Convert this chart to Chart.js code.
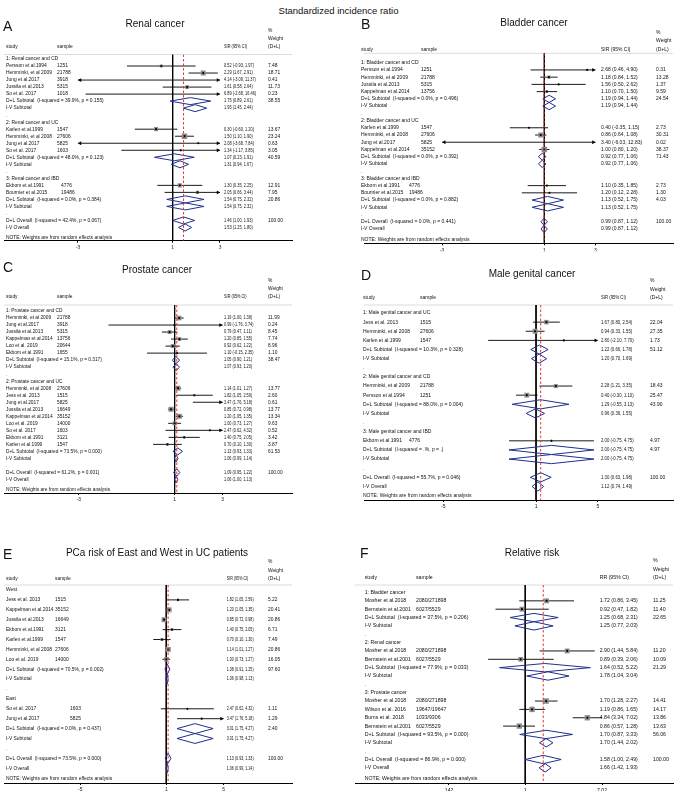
<!DOCTYPE html>
<html>
<head>
<meta charset="utf-8">
<script src="https://cdn.jsdelivr.net/npm/chart.js@4.4.1/dist/chart.umd.min.js"></script>
<style>
  body { margin: 0; background: #fff; }
  #page { position: relative; width: 677px; height: 805px; overflow: hidden; font-family: "Liberation Sans", Arial, sans-serif; }
  #mainTitle { position: absolute; left: 0; width: 677px; top: 5px; text-align: center; font-size: 9.5px; line-height: 12px; color: #111; }
  canvas { position: absolute; }
</style>
</head>
<body>
<div id="page">
  <div id="mainTitle">Standardized incidence ratio</div>
</div>
<script>
// row = [type, label, sample, estimate, lower, upper, weight]
// g = group heading, s = study, d = pooled estimate (diamond), b = spacer "."
const renalRows = [
  ['g', '1: Renal cancer and CD'],
  ['s', 'Persson et al.1994', '1251', 0.52, -0.93, 1.97, 7.48],
  ['s', 'Hemminki, et al 2009', '21788', 2.29, 1.67, 2.91, 18.71],
  ['s', 'Jung et al.2017', '3918', 4.14, -3.09, 11.37, 0.41],
  ['s', 'Jussila et al.2013', '5315', 1.61, 0.58, 2.64, 11.73],
  ['s', 'So et al. 2017', '1018', 6.89, -2.68, 16.46, 0.23],
  ['d', 'D+L Subtotal  (I-squared = 39.9%, p = 0.155)', '', 1.75, 0.89, 2.61, 38.55],
  ['d', 'I-V Subtotal', '', 1.95, 1.45, 2.44, null],
  ['b', '.'],
  ['g', '2: Renal cancer and UC'],
  ['s', 'Karlen et al.1999', '1547', 0.30, -0.60, 1.20, 13.67],
  ['s', 'Hemminki, et al 2008', '27606', 1.50, 1.10, 1.90, 23.24],
  ['s', 'Jung et al.2017', '5825', 2.08, -3.68, 7.84, 0.63],
  ['s', 'So et al. 2017', '1603', 1.34, -1.17, 3.85, 3.05],
  ['d', 'D+L Subtotal  (I-squared = 48.0%, p = 0.123)', '', 1.07, 0.23, 1.91, 40.59],
  ['d', 'I-V Subtotal', '', 1.31, 0.94, 1.67, null],
  ['b', '.'],
  ['g', '3: Renal cancer and IBD'],
  ['s', 'Ekbom et al.1991', '4776', 1.30, 0.35, 2.25, 12.91],
  ['s', 'Bournier et al.2015', '19486', 2.05, 0.66, 3.44, 7.95],
  ['d', 'D+L Subtotal  (I-squared = 0.0%, p = 0.384)', '', 1.54, 0.75, 2.32, 20.86],
  ['d', 'I-V Subtotal', '', 1.54, 0.75, 2.32, null],
  ['b', '.'],
  ['d', 'D+L Overall  (I-squared = 42.4%, p = 0.067)', '', 1.46, 1.00, 1.93, 100.00],
  ['d', 'I-V Overall', '', 1.53, 1.25, 1.80, null]
];
const renalTicks = [-3, 1, 3];

const bladderRows = [
  ['g', '1: Bladder cancer and CD'],
  ['s', 'Persson et al.1994', '1251', 2.68, 0.46, 4.90, 0.31],
  ['s', 'Hemminki, et al 2009', '21788', 1.18, 0.84, 1.52, 13.28],
  ['s', 'Jussila et al.2013', '5315', 1.56, 0.50, 2.62, 1.37],
  ['s', 'Kappelman et al.2014', '13756', 1.10, 0.70, 1.50, 9.59],
  ['d', 'D+L Subtotal  (I-squared = 0.0%, p = 0.496)', '', 1.19, 0.94, 1.44, 24.54],
  ['d', 'I-V Subtotal', '', 1.19, 0.94, 1.44, null],
  ['b', '.'],
  ['g', '2: Bladder cancer and UC'],
  ['s', 'Karlen et al.1999', '1547', 0.40, -0.35, 1.15, 2.73],
  ['s', 'Hemminki, et al 2008', '27606', 0.86, 0.64, 1.08, 30.31],
  ['s', 'Jung et al.2017', '5825', 3.40, -6.03, 12.83, 0.02],
  ['s', 'Kappelman et al.2014', '35152', 1.00, 0.80, 1.20, 38.37],
  ['d', 'D+L Subtotal  (I-squared = 0.0%, p = 0.392)', '', 0.92, 0.77, 1.06, 71.43],
  ['d', 'I-V Subtotal', '', 0.92, 0.77, 1.06, null],
  ['b', '.'],
  ['g', '3: Bladder cancer and IBD'],
  ['s', 'Ekbom et al.1991', '4776', 1.10, 0.35, 1.85, 2.73],
  ['s', 'Bournier et al.2015', '19486', 1.20, 0.12, 2.28, 1.30],
  ['d', 'D+L Subtotal  (I-squared = 0.0%, p = 0.882)', '', 1.13, 0.52, 1.75, 4.03],
  ['d', 'I-V Subtotal', '', 1.13, 0.52, 1.75, null],
  ['b', '.'],
  ['d', 'D+L Overall  (I-squared = 0.0%, p = 0.441)', '', 0.99, 0.87, 1.12, 100.00],
  ['d', 'I-V Overall', '', 0.99, 0.87, 1.12, null]
];
const bladderTicks = [-3, 1, 3];

const prostateRows = [
  ['g', '1: Prostate cancer and CD'],
  ['s', 'Hemminki, et al 2009', '21788', 1.19, 1.00, 1.38, 11.99],
  ['s', 'Jung et al.2017', '3918', 0.99, -1.76, 3.74, 0.24],
  ['s', 'Jussila et al.2013', '5315', 0.79, 0.47, 1.11, 8.45],
  ['s', 'Kappelman et al.2014', '13756', 1.20, 0.85, 1.55, 7.74],
  ['s', 'Loo et al. 2019', '20644', 0.92, 0.62, 1.22, 8.96],
  ['s', 'Ekbom et al.1991', '1655', 1.10, -0.15, 2.35, 1.10],
  ['d', 'D+L Subtotal  (I-squared = 15.1%, p = 0.317)', '', 1.05, 0.90, 1.21, 38.47],
  ['d', 'I-V Subtotal', '', 1.07, 0.93, 1.20, null],
  ['b', '.'],
  ['g', '2: Prostate cancer and UC'],
  ['s', 'Hemminki, et al 2008', '27606', 1.14, 1.01, 1.27, 13.77],
  ['s', 'Jess et al. 2013', '1515', 1.82, 1.05, 2.59, 2.60],
  ['s', 'Jung et al.2017', '5825', 3.47, 1.76, 5.18, 0.61],
  ['s', 'Jussila et al.2013', '16649', 0.85, 0.72, 0.98, 13.77],
  ['s', 'Kappelman et al.2014', '35152', 1.20, 1.05, 1.35, 13.34],
  ['s', 'Loo et al. 2019', '14000', 1.00, 0.73, 1.27, 9.63],
  ['s', 'So et al. 2017', '1603', 2.47, 0.62, 4.32, 0.52],
  ['s', 'Ekbom et al.1991', '3121', 1.40, 0.75, 2.05, 3.42],
  ['s', 'Karlen et al.1999', '1547', 0.70, 0.10, 1.30, 3.87],
  ['d', 'D+L Subtotal  (I-squared = 73.5%, p = 0.000)', '', 1.13, 0.93, 1.33, 61.53],
  ['d', 'I-V Subtotal', '', 1.06, 0.99, 1.14, null],
  ['b', '.'],
  ['d', 'D+L Overall  (I-squared = 61.2%, p = 0.001)', '', 1.09, 0.95, 1.22, 100.00],
  ['d', 'I-V Overall', '', 1.06, 1.00, 1.13, null]
];
const prostateTicks = [-3, 1, 3];

const genitalRows = [
  ['g', '1: Male genital cancer and UC'],
  ['s', 'Jess et al. 2013', '1515', 1.67, 0.80, 2.54, 22.04],
  ['s', 'Hemminki, et al 2008', '27606', 0.94, 0.33, 1.55, 27.35],
  ['s', 'Karlen et al.1999', '1547', 2.80, -2.10, 7.70, 1.73],
  ['d', 'D+L Subtotal  (I-squared = 10.3%, p = 0.328)', '', 1.22, 0.66, 1.78, 51.12],
  ['d', 'I-V Subtotal', '', 1.20, 0.70, 1.69, null],
  ['b', '.'],
  ['g', '2: Male genital cancer and CD'],
  ['s', 'Hemminki, et al 2009', '21788', 2.28, 1.21, 3.35, 18.43],
  ['s', 'Persson et al.1994', '1251', 0.40, -0.30, 1.10, 25.47],
  ['d', 'D+L Subtotal  (I-squared = 88.0%, p = 0.004)', '', 1.29, -0.55, 3.13, 43.90],
  ['d', 'I-V Subtotal', '', 0.96, 0.36, 1.55, null],
  ['b', '.'],
  ['g', '3: Male genital cancer and IBD'],
  ['s', 'Ekbom et al.1991', '4776', 2.00, -0.75, 4.75, 4.97],
  ['d', 'D+L Subtotal  (I-squared = .%, p = .)', '', 2.00, -0.75, 4.75, 4.97],
  ['d', 'I-V Subtotal', '', 2.00, -0.75, 4.75, null],
  ['b', '.'],
  ['d', 'D+L Overall  (I-squared = 55.7%, p = 0.046)', '', 1.30, 0.63, 1.98, 100.00],
  ['d', 'I-V Overall', '', 1.12, 0.74, 1.49, null]
];
const genitalTicks = [-5, 1, 5];

const eastWestRows = [
  ['g', 'West'],
  ['s', 'Jess et al. 2013', '1515', 1.82, 1.05, 2.59, 5.22],
  ['s', 'Kappelman et al.2014', '35152', 1.20, 1.05, 1.35, 20.41],
  ['s', 'Jussila et al.2013', '16649', 0.85, 0.72, 0.98, 20.86],
  ['s', 'Ekbom et al.1991', '3121', 1.40, 0.75, 2.05, 6.71],
  ['s', 'Karlen et al.1999', '1547', 0.70, 0.10, 1.30, 7.49],
  ['s', 'Hemminki, et al 2008', '27606', 1.14, 1.01, 1.27, 20.86],
  ['s', 'Loo et al. 2019', '14000', 1.00, 0.73, 1.27, 16.05],
  ['d', 'D+L Subtotal  (I-squared = 70.5%, p = 0.002)', '', 1.08, 0.91, 1.25, 97.60],
  ['d', 'I-V Subtotal', '', 1.06, 0.98, 1.13, null],
  ['b', '.'],
  ['g', 'East'],
  ['s', 'So et al. 2017', '1603', 2.47, 0.62, 4.32, 1.11],
  ['s', 'Jung et al.2017', '5825', 3.47, 1.76, 5.18, 1.29],
  ['d', 'D+L Subtotal  (I-squared = 0.0%, p = 0.437)', '', 3.01, 1.75, 4.27, 2.40],
  ['d', 'I-V Subtotal', '', 3.01, 1.75, 4.27, null],
  ['b', '.'],
  ['d', 'D+L Overall  (I-squared = 73.5%, p = 0.000)', '', 1.13, 0.93, 1.33, 100.00],
  ['d', 'I-V Overall', '', 1.06, 0.99, 1.14, null]
];
const eastWestTicks = [-5, 1, 5];

const rrRows = [
  ['g', '1: Bladder cancer'],
  ['s', 'Mosher et al.2018', '2080/271898', 1.72, 0.86, 3.45, 11.25],
  ['s', 'Bernstein et al.2001', '6027/5529', 0.92, 0.47, 1.82, 11.40],
  ['d', 'D+L Subtotal  (I-squared = 37.5%, p = 0.206)', '', 1.25, 0.68, 2.31, 22.65],
  ['d', 'I-V Subtotal', '', 1.25, 0.77, 2.03, null],
  ['b', '.'],
  ['g', '2: Renal cancer'],
  ['s', 'Mosher et al.2018', '2080/271898', 2.90, 1.44, 5.84, 11.20],
  ['s', 'Bernstein et al.2001', '6027/5529', 0.89, 0.39, 2.06, 10.09],
  ['d', 'D+L Subtotal  (I-squared = 77.9%, p = 0.033)', '', 1.64, 0.52, 5.22, 21.29],
  ['d', 'I-V Subtotal', '', 1.78, 1.04, 3.04, null],
  ['b', '.'],
  ['g', '3: Prostate cancer'],
  ['s', 'Mosher et al.2018', '2080/271898', 1.70, 1.28, 2.27, 14.41],
  ['s', 'Wilson et al. 2016', '19647/19647', 1.19, 0.86, 1.65, 14.17],
  ['s', 'Burns et al. 2018', '1033/9306', 4.84, 3.34, 7.02, 13.86],
  ['s', 'Bernstein et al.2001', '6027/5529', 0.86, 0.57, 1.28, 13.63],
  ['d', 'D+L Subtotal  (I-squared = 93.5%, p = 0.000)', '', 1.70, 0.87, 3.33, 56.06],
  ['d', 'I-V Subtotal', '', 1.70, 1.44, 2.02, null],
  ['b', '.'],
  ['d', 'D+L Overall  (I-squared = 86.9%, p = 0.000)', '', 1.58, 1.00, 2.49, 100.00],
  ['d', 'I-V Overall', '', 1.66, 1.42, 1.93, null]
];
const rrTicks = [1 / 7.02, 1, 7.02];
const rrTickText = ['.142', '1', '7.02'];

// page geometry of each panel (pixels), kept apart from the values above
const layoutA = { left: 0, right: 292, width: 300, top: 12, one: 171, ppu: 24, letter: [3, 27], title: [155, 24],
  hdrY: [31, 39, 47], hdrLine: 54.5, row0: 59, step: 7.02, noteY: 237.7, axisY: 240.7, font: 4.9, ciScale: 0.8,
  study: 6, sample: [57, 57, 61], ci: 224, wt: 268, clip: [-3, 3], box: 5.5 };
const layoutB = { left: 360, right: 677, width: 317, top: 12, one: 545, ppu: 26.2, letter: [361, 25], title: [534, 23.5],
  hdrY: [32.7, 40.7, 49.3], hdrLine: 53.3, row0: 62.7, step: 7.23, noteY: 239.3, axisY: 243.3, font: 5, ciScale: 1,
  study: 361, sample: [421, 421, 409], ci: 601, wt: 656, clip: [-3, 3], box: 5.5 };
const layoutC = { left: 0, right: 292, width: 300, top: 256, one: 173, ppu: 24.3, letter: [3, 268], title: [157, 270],
  hdrY: [281, 289, 297], hdrLine: 305, row0: 311, step: 7.02, noteY: 490, axisY: 493, font: 4.8, ciScale: 0.8,
  study: 6, sample: [57, 57], ci: 224, wt: 268, clip: [-3, 3], box: 5 };
const layoutD = { left: 360, right: 677, width: 317, top: 262, one: 536.5, ppu: 15.84, letter: [361, 276], title: [532, 274],
  hdrY: [281, 289.5, 298], hdrLine: 305, row0: 313, step: 9.13, noteY: 496, axisY: 500, font: 5, ciScale: 0.85,
  study: 363, sample: [420, 420, 409], ci: 601, wt: 650, clip: [-5, 5], box: 5 };
const layoutE = { left: 0, right: 292, width: 300, top: 541, one: 164.5, ppu: 14.54, letter: [3, 555], title: [157, 553],
  hdrY: [562, 570.5, 579], hdrLine: 585, row0: 590, step: 9.9, noteY: 779, axisY: 783, font: 4.9, ciScale: 0.75,
  study: 6, sample: [55, 70], ci: 226.7, wt: 268, clip: [-5, 5], box: 5 };
const layoutF = { left: 351, right: 677, width: 326, top: 541, one: 525.5, ppu: 40.4, log: true, letter: [360, 554], title: [532, 553],
  hdrY: [561, 569.5, 578], hdrLine: 585, row0: 592.5, step: 8.35, noteY: 779, axisY: 783, font: 5.2, ciScale: 1,
  study: 364.7, sample: [416, 416, 416], ci: 599.7, wt: 653, clip: [1 / 7.02, 7.02], box: 5.5 };

const FAMILY = '"Liberation Sans", Arial, sans-serif';
const DIAMOND = '#1f2f8c';

function ciText(r) {
  return `${r[3].toFixed(2)} (${r[4].toFixed(2)}, ${r[5].toFixed(2)})`;
}

function buildPanel(letter, title, ciHead, rows, ticks, tickText, L) {
  const cv = document.createElement('canvas');
  const cx = L.left, cy = L.top;
  const cw = L.width, ch = Math.round(L.axisY + 14 - L.top);
  cv.width = cw;
  cv.height = ch;
  cv.style.left = cx + 'px';
  cv.style.top = cy + 'px';
  document.getElementById('page').appendChild(cv);

  const xMin = L.log ? Math.exp((L.left - L.one) / L.ppu) : 1 - (L.one - L.left) / L.ppu;
  const xMax = L.log ? Math.exp((L.right - L.one) / L.ppu) : 1 + (L.right - L.one) / L.ppu;
  const yMin = (L.hdrLine - L.row0) / L.step;
  const yMax = (L.axisY - L.row0) / L.step;

  const datasets = [];
  const wMax = Math.max(...rows.filter(r => r[0] === 's').map(r => r[6]));
  const boxes = [], boxR = [], dots = [], arrows = [], arrowRot = [];
  let overall = 1;

  rows.forEach((r, i) => {
    if (r[0] === 's') {
      const est = r[3], lo = r[4], hi = r[5], w = r[6];
      const a = Math.max(lo, L.clip[0]), b = Math.min(hi, L.clip[1]);
      datasets.push({ data: [{ x: a, y: i }, { x: b, y: i }], showLine: true, borderColor: '#000',
        borderWidth: 0.9, pointRadius: 0, order: 4 });
      if (est >= L.clip[0] && est <= L.clip[1]) {
        boxes.push({ x: est, y: i });
        boxR.push(L.box * Math.sqrt(w / wMax) / Math.SQRT2);
        dots.push({ x: est, y: i });
      }
      if (lo < L.clip[0]) { arrows.push({ x: L.clip[0] + 2.2 / L.ppu, y: i }); arrowRot.push(-90); }
      if (hi > L.clip[1]) { arrows.push({ x: L.clip[1] - 2.2 / L.ppu, y: i }); arrowRot.push(90); }
    } else if (r[0] === 'd') {
      const est = r[3], lo = r[4], hi = r[5];
      datasets.push({
        data: [{ x: lo, y: i }, { x: est, y: i - 0.5 }, { x: hi, y: i }, { x: est, y: i + 0.5 }, { x: lo, y: i }],
        showLine: true, borderColor: DIAMOND, borderWidth: 1, pointRadius: 0, order: 3
      });
      if (r[1].startsWith('D+L Overall')) overall = est;
    }
  });

  datasets.push({ data: boxes, pointStyle: 'rect', pointRadius: boxR, backgroundColor: '#8c8c8c',
    borderWidth: 0, order: 2 });
  datasets.push({ data: dots, pointStyle: 'circle', pointRadius: 1.1, backgroundColor: '#000',
    borderWidth: 0, order: 1 });
  datasets.push({ data: arrows, pointStyle: 'triangle', pointRadius: 2.2, pointRotation: arrowRot,
    backgroundColor: '#000', borderWidth: 0, order: 1 });
  datasets.push({ data: [{ x: 1, y: yMin }, { x: 1, y: yMax }], showLine: true, borderColor: '#000',
    borderWidth: 1, pointRadius: 0, order: 5 });
  datasets.push({ data: [{ x: overall, y: yMin }, { x: overall, y: yMax }], showLine: true, borderColor: '#e03a2f',
    borderWidth: 1, borderDash: [2.5, 2], pointRadius: 0, order: 0 });

  const textPlugin = {
    id: 'forestText' + letter,
    beforeDatasetsDraw(chart) {
      const { ctx, chartArea: a } = chart;
      ctx.save();
      ctx.strokeStyle = '#dcdcdc';
      ctx.lineWidth = 1;
      ctx.beginPath();
      ctx.moveTo(a.left, a.top);
      ctx.lineTo(a.right, a.top);
      ctx.stroke();
      ctx.restore();
    },
    afterDraw(chart) {
      const ctx = chart.ctx;
      const ys = chart.scales.y;
      const X = v => v - cx, Y = v => v - cy;
      ctx.save();
      ctx.fillStyle = '#111';
      ctx.textBaseline = 'middle';
      ctx.textAlign = 'left';
      ctx.font = `14px ${FAMILY}`;
      ctx.fillText(letter, X(L.letter[0]), Y(L.letter[1]));
      ctx.font = `10px ${FAMILY}`;
      ctx.textAlign = 'center';
      ctx.fillText(title, X(L.title[0]), Y(L.title[1]));
      ctx.textAlign = 'left';
      ctx.font = `${L.font}px ${FAMILY}`;
      const ciFill = (s, x, y) => ctx.fillText(s, x, y, ctx.measureText(s).width * L.ciScale);
      ctx.fillText('study', X(L.study), Y(L.hdrY[2]));
      ctx.fillText('sample', X(L.sample[0]), Y(L.hdrY[2]));
      ciFill(ciHead, X(L.ci), Y(L.hdrY[2]));
      ctx.fillText('%', X(L.wt), Y(L.hdrY[0]));
      ctx.fillText('Weight', X(L.wt), Y(L.hdrY[1]));
      ctx.fillText('(D+L)', X(L.wt), Y(L.hdrY[2]));
      let g = -1;
      rows.forEach((r, i) => {
        const y = ys.getPixelForValue(i);
        if (r[0] === 'g') g++;
        ctx.fillText(r[1], X(L.study), y);
        if (r[0] === 's') ctx.fillText(r[2], X(L.sample[Math.max(g, 0)]), y);
        if (r[0] === 's' || r[0] === 'd') {
          ciFill(ciText(r), X(L.ci), y);
          if (r[6] != null) ctx.fillText(r[6].toFixed(2), X(L.wt), y);
        }
      });
      ctx.fillText('NOTE: Weights are from random effects analysis', X(L.study), Y(L.noteY));
      ctx.restore();
    }
  };

  new Chart(cv, {
    type: 'scatter',
    data: { datasets },
    options: {
      responsive: false,
      animation: false,
      events: [],
      layout: {
        padding: {
          left: L.left - cx,
          right: cw - (L.right - cx),
          top: L.hdrLine - cy,
          bottom: ch - (L.axisY - cy) - 8
        }
      },
      plugins: { legend: { display: false }, tooltip: { enabled: false } },
      scales: {
        x: {
          type: L.log ? 'logarithmic' : 'linear',
          min: xMin,
          max: xMax,
          bounds: 'data',
          afterBuildTicks: s => { s.ticks = ticks.map(v => ({ value: v })); },
          afterFit: s => { s.height = 8; },
          ticks: {
            autoSkip: false, maxRotation: 0, padding: 2, color: '#111',
            font: { size: L.font, family: FAMILY },
            callback: (v, i) => tickText ? tickText[i] : String(ticks[i])
          },
          grid: { drawOnChartArea: false, drawTicks: true, tickLength: 2, color: '#000', lineWidth: 1 },
          border: { display: true, color: '#000', width: 1 }
        },
        y: { type: 'linear', reverse: true, min: yMin, max: yMax, display: false }
      }
    },
    plugins: [textPlugin]
  });
}

buildPanel('A', 'Renal cancer', 'SIR (95% CI)', renalRows, renalTicks, null, layoutA);
buildPanel('B', 'Bladder cancer', 'SIR (95% CI)', bladderRows, bladderTicks, null, layoutB);
buildPanel('C', 'Prostate cancer', 'SIR (95% CI)', prostateRows, prostateTicks, null, layoutC);
buildPanel('D', 'Male genital cancer', 'SIR (95% CI)', genitalRows, genitalTicks, null, layoutD);
buildPanel('E', 'PCa risk of East and West in UC patients', 'SIR (95% CI)', eastWestRows, eastWestTicks, null, layoutE);
buildPanel('F', 'Relative risk', 'RR (95% CI)', rrRows, rrTicks, rrTickText, layoutF);
</script>
</body>
</html>
